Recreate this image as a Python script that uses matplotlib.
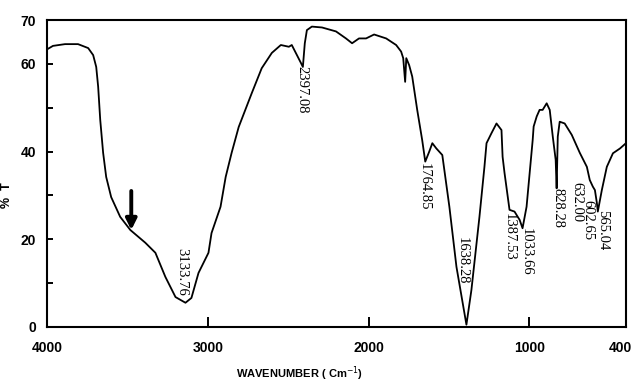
import matplotlib.pyplot as plt
import matplotlib.transforms as mtrans
import numpy as np

# IR spectrum
wavenumber = [4000, 3963, 3888, 3807, 3744, 3713, 3694, 3682, 3669, 3651,
              3632, 3601, 3545, 3482, 3389, 3326, 3264, 3201, 3139, 3102,
              3058, 2996, 2977, 2921, 2889, 2852, 2808, 2727, 2665, 2602,
              2546, 2496, 2478, 2446, 2421, 2409, 2397, 2384, 2353, 2290,
              2203, 2141, 2103, 2060, 2016, 1966, 1891, 1829, 1798, 1785,
              1773, 1766, 1748, 1729, 1698, 1667, 1648, 1623, 1604, 1579,
              1542, 1498, 1454, 1392, 1361, 1311, 1280, 1267, 1236, 1205,
              1174, 1167, 1155, 1124, 1093, 1061, 1043, 1018, 999, 980,
              974, 955, 937, 918, 893, 874, 855, 837, 831, 824,
              812, 781, 737, 687, 643, 625, 606, 593, 581, 575,
              550, 519, 481, 437, 400]
transmittance = [63.3, 64.1, 64.5, 64.5, 63.6, 62.0, 59.3, 54.8, 47.2, 39.7,
                 34.2, 29.6, 25.1, 22.1, 19.2, 16.9, 11.4, 6.8, 5.5, 6.6,
                 12.3, 16.9, 21.4, 27.4, 34.2, 39.7, 45.6, 53.3, 59.0, 62.5,
                 64.3, 63.9, 64.3, 62.0, 60.2, 59.3, 64.7, 67.7, 68.5, 68.3,
                 67.4, 65.8, 64.7, 65.8, 65.8, 66.7, 65.8, 64.3, 62.8, 61.3,
                 55.9, 61.3, 59.7, 57.1, 49.5, 42.6, 37.7, 40.0, 41.9, 40.7,
                 39.2, 27.4, 13.7, 0.5, 8.4, 25.1, 36.5, 41.9, 44.2, 46.4,
                 44.9, 38.8, 35.1, 26.7, 26.3, 24.4, 22.5, 27.4, 35.0, 42.6,
                 45.7, 48.0, 49.5, 49.5, 51.0, 49.5, 43.4, 38.1, 31.6, 43.4,
                 46.8, 46.4, 43.8, 39.7, 36.5, 33.5, 32.0, 31.2, 28.3, 26.3,
                 31.2, 36.5, 39.6, 40.7, 41.9]

peak_labels = ['3133.76', '2397.08', '1764.85', '1638.28', '1387.53',
               '1033.66', '828.28', '632.00', '602.65', '565.04']
label_x = [3164, 2415, 1654, 1417, 1124, 1018, 824, 706, 637, 543]
label_y = [18.0, 59.5, 37.4, 20.5, 26.0, 22.6, 31.7, 33.1, 29.0, 26.7]

xticks = [4000, 3000, 2000, 1000, 400]
yticks = [0, 20, 40, 60, 70]

sans = ['Liberation Sans', 'DejaVu Sans']
tick_font = dict(family=sans, weight='bold', size=10)
serif = ['Liberation Serif', 'DejaVu Serif']

fig = plt.figure(figsize=(6.31, 3.85), dpi=100)
ax = fig.add_axes([0.0745, 0.151, 0.9175, 0.797])

ax.plot(wavenumber, transmittance, color='black', lw=1.3)

ax.set_xlim(4000, 400)
ax.set_ylim(0, 70)

ax.set_xticks(xticks)
ax.set_xticklabels([str(t) for t in xticks], fontdict=tick_font)
ax.set_yticks(yticks)
ax.set_yticklabels([str(t) for t in yticks], fontdict=tick_font)
ax.set_yticks([10, 30, 50], minor=True)
ax.tick_params(axis='x', direction='in', length=7, width=1.4, pad=10)
ax.tick_params(axis='y', which='both', direction='in', length=4, width=1.4, pad=8)

# last x label sits a little left, as in the original scan
last = ax.get_xticklabels()[-1]
last.set_transform(last.get_transform() + mtrans.ScaledTranslation(-0.06, 0, fig.dpi_scale_trans))

for s in ax.spines.values():
    s.set_linewidth(1.5)

for txt, x, y in zip(peak_labels, label_x, label_y):
    ax.text(x, y, txt, rotation=-90, ha='center', va='top',
            family=serif, fontsize=10.5)

# arrow marking the shoulder
ax.annotate('', xy=(3476, 22.1), xytext=(3476, 31.0),
            arrowprops=dict(arrowstyle='-|>', lw=2.8, color='black',
                            mutation_scale=16, shrinkA=0, shrinkB=0))

ax.set_xlabel('WAVENUMBER ( Cm$^{-1}$)', family=sans, weight='bold', fontsize=8)
ax.xaxis.set_label_coords(0.437, -0.122)
ax.set_ylabel('%  T', family=sans, weight='bold', fontsize=9)
ax.yaxis.set_label_coords(-0.058, 0.43)

fig.savefig('out.png', dpi=100)
